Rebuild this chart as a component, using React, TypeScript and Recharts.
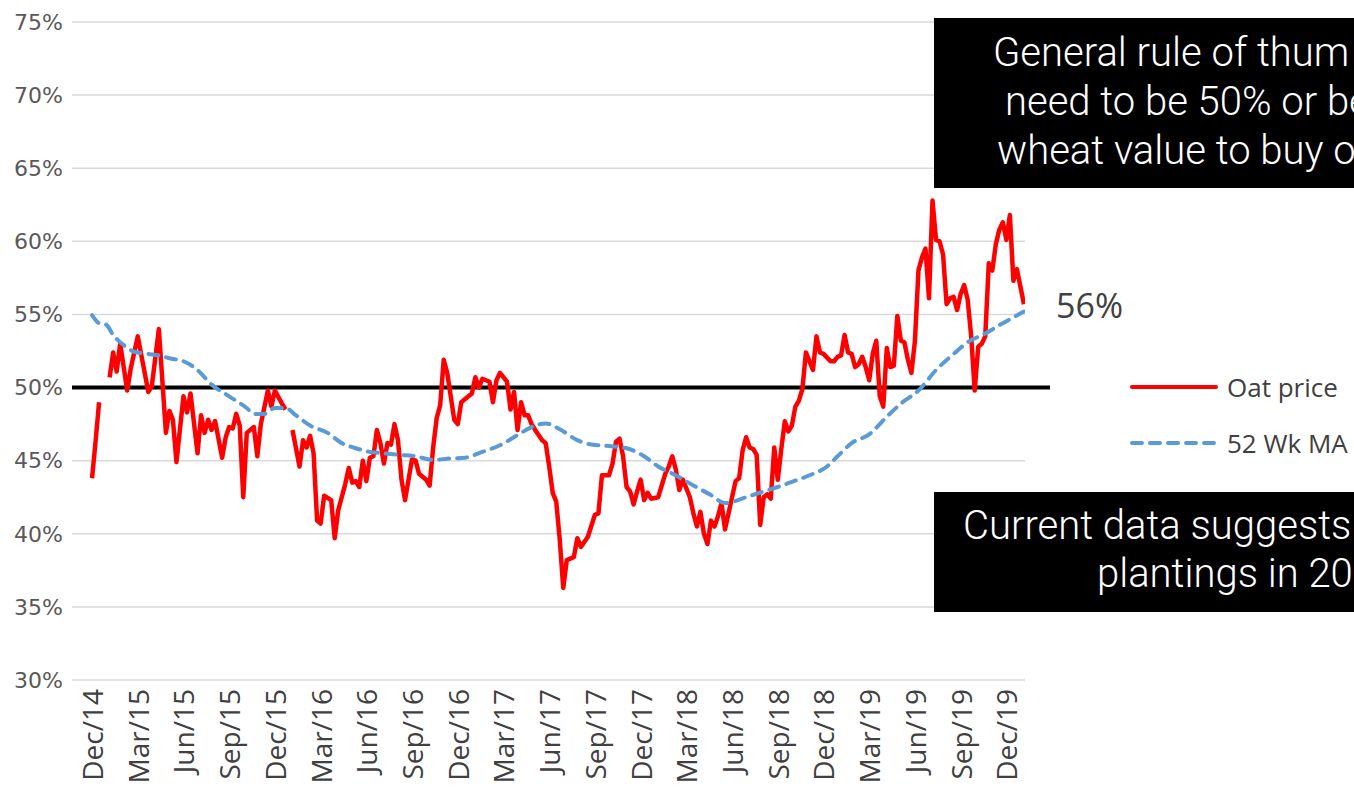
import React from "react";
import {
  CartesianGrid,
  Legend,
  Line,
  LineChart,
  ReferenceLine,
  XAxis,
  YAxis,
} from "recharts";

// x axis: one label every 13 weeks, week 0 = Dec/14
const quarterLabels = [
  "Dec/14", "Mar/15", "Jun/15", "Sep/15", "Dec/15", "Mar/16", "Jun/16",
  "Sep/16", "Dec/16", "Mar/17", "Jun/17", "Sep/17", "Dec/17", "Mar/18",
  "Jun/18", "Sep/18", "Dec/18", "Mar/19", "Jun/19", "Sep/19", "Dec/19",
];
const yTicks = [30, 35, 40, 45, 50, 55, 60, 65, 70, 75];
const seriesOrder = ["Oat price", "52 Wk MA"];

// oat price as % of wheat, [week, value] (null = no quote)
const oat2015: [number, number | null][] = [
  [0, 43.8], [1, 46.3], [2, 49.0], [3, null], [5, 50.7], [6, 52.4], [7, 51.1],
  [8, 53.0], [10, 49.8], [11, 51.3], [13, 53.5], [16, 49.7], [17, 50.1],
  [19, 54.0], [21, 46.9], [22, 48.4], [23, 47.8], [24, 44.9], [26, 49.4],
  [27, 48.3], [28, 49.6], [30, 45.5], [31, 48.1], [32, 46.9], [33, 47.8],
  [34, 47.1], [35, 47.7], [37, 45.2], [38, 46.6], [39, 47.3], [40, 47.2],
  [41, 48.2], [42, 47.4], [43, 42.5], [44, 46.9], [46, 47.3], [47, 45.3],
  [48, 47.5], [50, 49.8], [51, 48.7], [52, 49.8], [54, 48.9], [55, 48.5],
  [56, null],
];
const oat2016: [number, number | null][] = [
  [57, 47.1], [59, 44.6], [60, 46.4], [61, 45.9], [62, 46.7], [63, 45.5],
  [64, 40.9], [65, 40.7], [66, 42.6], [68, 42.3], [69, 39.7], [70, 41.6],
  [72, 43.4], [73, 44.5], [74, 43.5], [75, 43.6], [76, 43.2], [77, 45.0],
  [78, 43.6], [79, 45.2], [80, 45.3], [81, 47.1], [82, 46.2], [83, 44.8],
  [84, 46.2], [85, 46.1], [86, 47.5], [87, 46.4], [88, 43.7], [89, 42.3],
  [91, 45.1], [92, 45.0], [93, 44.1], [95, 43.7], [96, 43.3], [97, 45.9],
  [98, 47.9], [99, 48.8], [100, 51.9], [101, 51.0], [103, 47.8], [104, 47.5],
];
const oat2017: [number, number | null][] = [
  [105, 49.0], [106, 49.2], [108, 49.6], [109, 50.7], [110, 50.0], [111, 50.6],
  [112, 50.5], [113, 50.4], [114, 49.0], [115, 50.5], [116, 51.0], [118, 50.4],
  [119, 48.5], [120, 49.7], [121, 47.1], [122, 49.0], [123, 48.1], [124, 48.1],
  [125, 47.5], [126, 47.1], [128, 46.4], [129, 46.2], [130, 44.6], [131, 42.8],
  [132, 42.2], [133, 39.6], [134, 36.3], [135, 38.2], [137, 38.4], [138, 39.7],
  [139, 39.1], [141, 39.8], [143, 41.3], [144, 41.4], [145, 44.0], [147, 44.0],
  [148, 44.8], [149, 46.3], [150, 46.5], [151, 45.3], [152, 43.2], [153, 42.9],
  [154, 42.0], [155, 42.9],
];
const oat2018: [number, number | null][] = [
  [156, 43.7], [157, 42.3], [158, 42.8], [159, 42.4], [161, 42.5], [163, 44.1],
  [164, 44.6], [165, 45.3], [166, 44.4], [167, 43.0], [168, 43.7], [169, 43.1],
  [170, 42.5], [171, 41.4], [172, 40.5], [173, 41.5], [174, 40.0], [175, 39.3],
  [176, 40.9], [177, 40.5], [178, 41.2], [179, 42.1], [180, 40.3], [182, 42.5],
  [183, 43.6], [184, 43.8], [185, 45.7], [186, 46.6], [187, 45.9], [188, 45.8],
  [189, 45.4], [190, 40.6], [191, 42.5], [192, 42.7], [193, 42.4], [194, 45.9],
  [195, 43.7], [196, 45.8], [197, 47.7], [198, 47.0], [199, 47.4], [200, 48.7],
  [201, 49.1], [202, 49.9], [203, 52.4], [204, 51.8], [205, 51.2], [206, 53.5],
  [207, 52.4],
];
const oat2019: [number, number | null][] = [
  [208, 52.3], [210, 51.8], [211, 51.8], [212, 52.1], [213, 52.2], [214, 53.6],
  [215, 52.4], [216, 52.3], [217, 51.4], [218, 51.6], [219, 52.1], [220, 51.4],
  [221, 50.5], [222, 52.3], [223, 53.2], [224, 49.4], [225, 48.7], [226, 52.7],
  [227, 51.4], [228, 51.5], [229, 54.9], [230, 53.2], [231, 53.1], [232, 51.9],
  [233, 51.0], [234, 53.2], [235, 58.0], [236, 58.9], [237, 59.5], [238, 56.1],
  [239, 62.8], [240, 60.1], [241, 60.0], [242, 59.1], [243, 55.7], [244, 56.1],
  [245, 56.2], [246, 55.3], [247, 56.4], [248, 57.0], [249, 56.0], [250, 53.5],
  [251, 49.8], [252, 52.8], [253, 53.0], [254, 53.5], [255, 58.5], [256, 58.0],
  [257, 59.8], [258, 60.8], [259, 61.3], [260, 60.1], [261, 61.8], [262, 57.3],
  [263, 58.1], [265, 55.7],
];

// 52 week moving average
const movingAvg: [number, number][] = [
  [0, 54.95], [2, 54.4], [4, 54.3], [6, 53.6], [9, 52.9], [12, 52.45],
  [16, 52.3], [19, 52.2], [22, 52.0], [26, 51.8], [30, 51.2], [34, 50.2],
  [39, 49.4], [44, 48.6], [46, 48.2], [49, 48.2], [52, 48.6], [55, 48.6],
  [58, 48.1], [62, 47.4], [67, 46.9], [71, 46.2], [75, 45.85], [79, 45.6],
  [83, 45.5], [87, 45.4], [92, 45.3], [97, 45.05], [102, 45.15], [106, 45.2],
  [111, 45.6], [116, 46.05], [121, 46.75], [125, 47.3], [129, 47.55],
  [133, 47.15], [138, 46.4], [142, 46.1], [147, 46.0], [152, 45.85],
  [157, 45.3], [161, 44.6], [166, 44.0], [171, 43.3], [176, 42.65],
  [180, 42.1], [186, 42.5], [191, 42.9], [195, 43.2], [199, 43.55],
  [204, 44.0], [209, 44.6], [212, 45.3], [216, 46.2], [221, 46.8],
  [226, 48.0], [230, 48.9], [235, 49.8], [240, 51.2], [245, 52.3],
  [249, 53.1], [254, 53.7], [259, 54.4], [265, 55.2],
];

const oatData = [...oat2015, ...oat2016, ...oat2017, ...oat2018, ...oat2019].map(
  ([w, v]) => ({ w, v })
);
const maData = movingAvg.map(([w, v]) => ({ w, v }));
const quarterTicks = quarterLabels.map((_, i) => i * 13);

const textGray = "#404040";

function QuarterTick(props: any) {
  const { x, y, payload } = props;
  const label = quarterLabels[Math.round(payload.value / 13)];
  return (
    <text
      x={x}
      y={y}
      transform={`rotate(-90 ${x} ${y})`}
      textAnchor="end"
      dominantBaseline="central"
      fontFamily="'Open Sans'"
      fontSize={28}
      fill={textGray}
    >
      {label}
    </text>
  );
}

// 50% line runs a bit past the plot area, like the original
function FiftyLine(props: any) {
  const { x1, y1, x2, y2 } = props;
  return <line x1={x1} y1={y1} x2={x2 + 25} y2={y2} stroke="#000" strokeWidth={4} />;
}

function LegendBox(props: any) {
  const items = [...(props.payload || [])].sort(
    (a: any, b: any) => seriesOrder.indexOf(a.value) - seriesOrder.indexOf(b.value)
  );
  return (
    <div>
      {items.map((entry: any) => (
        <div
          key={entry.value}
          style={{ display: "flex", alignItems: "center", height: 56 }}
        >
          <svg width={90} height={10}>
            <line
              x1={3}
              y1={5}
              x2={87}
              y2={5}
              stroke={entry.color}
              strokeWidth={4}
              strokeLinecap="round"
              strokeDasharray={entry.payload?.strokeDasharray}
            />
          </svg>
          <span
            style={{
              marginLeft: 8,
              fontFamily: "'Open Sans'",
              fontSize: 26,
              lineHeight: "26px",
              color: textGray,
              whiteSpace: "nowrap",
            }}
          >
            {entry.value}
          </span>
        </div>
      ))}
    </div>
  );
}

const boxText: React.CSSProperties = {
  position: "absolute",
  color: "#fff",
  fontFamily: "Roboto",
  fontWeight: 300,
  fontSize: 40,
  lineHeight: "40px",
  whiteSpace: "nowrap",
};

export default function App() {
  return (
    <div
      style={{
        position: "fixed",
        left: 0,
        top: 0,
        width: 1354,
        height: 792,
        overflow: "hidden",
        background: "#fff",
      }}
    >
      <LineChart
        width={1354}
        height={792}
        margin={{ top: 22, right: 329, bottom: 0, left: 0 }}
      >
        <CartesianGrid vertical={false} stroke="#d9d9d9" strokeWidth={1.5} />
        <XAxis
          dataKey="w"
          type="number"
          domain={[-5.7, 265.3]}
          ticks={quarterTicks}
          interval={0}
          axisLine={false}
          tickLine={false}
          tickSize={0}
          tickMargin={9}
          height={112}
          tick={<QuarterTick />}
          allowDataOverflow
        />
        <YAxis
          type="number"
          domain={[30, 75]}
          ticks={yTicks}
          interval={0}
          width={72}
          axisLine={false}
          tickLine={false}
          tickSize={0}
          tickMargin={9}
          tickFormatter={(v: number) => `${v}%`}
          tick={{ fontFamily: "'DejaVu Sans'", fontSize: 22, fill: "#595959" }}
        />
        <ReferenceLine y={50} shape={<FiftyLine />} />
        <Line
          data={oatData}
          dataKey="v"
          name="Oat price"
          type="linear"
          stroke="#ff0000"
          strokeWidth={4.5}
          strokeLinejoin="round"
          dot={false}
          activeDot={false}
          connectNulls={false}
          isAnimationActive={false}
        />
        <Line
          data={maData}
          dataKey="v"
          name="52 Wk MA"
          type="monotone"
          stroke="#5b9bd5"
          strokeWidth={4}
          strokeDasharray="10 8"
          strokeLinecap="round"
          dot={false}
          activeDot={false}
          isAnimationActive={false}
        />
        <Legend
          layout="vertical"
          align="center"
          verticalAlign="middle"
          content={<LegendBox />}
          wrapperStyle={{ left: 1129, top: 359, width: 240 }}
        />
      </LineChart>

      <div
        style={{
          position: "absolute",
          left: 1056,
          top: 288,
          fontFamily: "'Open Sans'",
          fontSize: 34,
          lineHeight: "34px",
          color: textGray,
        }}
      >
        56%
      </div>

      <div
        style={{
          position: "absolute",
          left: 934,
          top: 18,
          width: 440,
          height: 170,
          background: "#000",
        }}
      />
      <div style={{ ...boxText, left: 993, top: 33 }}>General rule of thum</div>
      <div style={{ ...boxText, left: 1005, top: 82 }}>need to be 50% or be</div>
      <div style={{ ...boxText, left: 997, top: 131 }}>wheat value to buy o</div>

      <div
        style={{
          position: "absolute",
          left: 934,
          top: 492,
          width: 440,
          height: 120,
          background: "#000",
        }}
      />
      <div style={{ ...boxText, left: 963, top: 506 }}>Current data suggests h</div>
      <div style={{ ...boxText, left: 1097, top: 554 }}>plantings in 202</div>
    </div>
  );
}
